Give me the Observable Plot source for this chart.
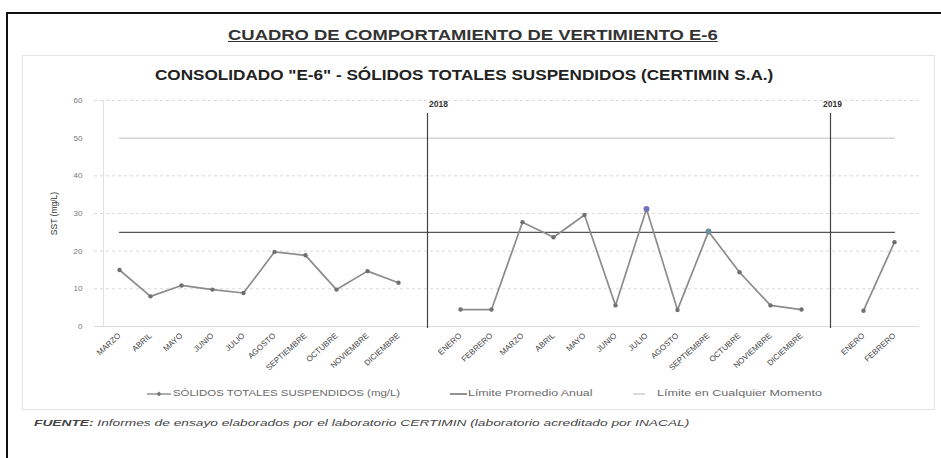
<!DOCTYPE html>
<html><head><meta charset="utf-8">
<script src="https://cdn.jsdelivr.net/npm/d3@7"></script>
<script src="https://cdn.jsdelivr.net/npm/@observablehq/plot@0.6"></script>
<style>
html,body{margin:0;padding:0;background:#fff;}
body{width:941px;height:458px;position:relative;overflow:hidden;font-family:"Liberation Sans",Arial,sans-serif;}
.abs{position:absolute;white-space:nowrap;line-height:1;transform-origin:0 50%;}
#outer{position:absolute;left:6px;top:12px;width:960px;height:470px;border-left:2.5px solid #111;border-top:2.5px solid #111;}
#inner{position:absolute;left:22px;top:55px;width:911px;height:353px;border:1px solid #e4e4e4;}
#chart{position:absolute;left:0;top:85px;}
.leg{color:#6a6a6a;font-size:9px;}
</style></head>
<body>
<div id="outer"></div>
<div id="inner"></div>
<div class="abs" data-w="490" style="left:228px;top:28px;font-size:14px;font-weight:bold;color:#333;text-decoration:underline;">CUADRO DE COMPORTAMIENTO DE VERTIMIENTO E-6</div>
<div class="abs" data-w="618" style="left:155px;top:67px;font-size:15px;font-weight:bold;color:#222;">CONSOLIDADO "E-6" - SÓLIDOS TOTALES SUSPENDIDOS (CERTIMIN S.A.)</div>
<div id="chart"></div>
<svg style="position:absolute;left:145px;top:389px" width="28" height="10"><line x1="2" y1="5" x2="26" y2="5" stroke="#8c8c8c" stroke-width="1.4"/><path d="M14 2.6 L16.4 5 L14 7.4 L11.6 5Z" fill="#777"/></svg>
<div class="abs leg" data-w="227" style="left:173px;top:389px;">SÓLIDOS TOTALES SUSPENDIDOS (mg/L)</div>
<svg style="position:absolute;left:448px;top:389px" width="20" height="10"><line x1="2" y1="5" x2="19" y2="5" stroke="#555" stroke-width="1.3"/></svg>
<div class="abs leg" data-w="125" style="left:468px;top:389px;">Límite Promedio Anual</div>
<svg style="position:absolute;left:631px;top:389px" width="16" height="10"><line x1="2" y1="5" x2="14" y2="5" stroke="#c4c4c4" stroke-width="1.3"/></svg>
<div class="abs leg" data-w="165" style="left:657px;top:389px;">Límite en Cualquier Momento</div>
<div class="abs" data-w="656" style="left:34px;top:419px;font-size:9px;font-style:italic;color:#444;"><b>FUENTE:</b> Informes de ensayo elaborados por el laboratorio CERTIMIN (laboratorio acreditado por INACAL)</div>
<script>
// ---- data ----
const months2017 = ["MARZO","ABRIL","MAYO","JUNIO","JULIO","AGOSTO","SEPTIEMBRE","OCTUBRE","NOVIEMBRE","DICIEMBRE"];
const sst2017 = [15.0, 8.0, 10.9, 9.8, 8.9, 19.8, 18.9, 9.8, 14.7, 11.6];
const months2018 = ["ENERO","FEBRERO","MARZO","ABRIL","MAYO","JUNIO","JULIO","AGOSTO","SEPTIEMBRE","OCTUBRE","NOVIEMBRE","DICIEMBRE"];
const sst2018 = [4.5, 4.5, 27.7, 23.7, 29.6, 5.6, 31.2, 4.4, 25.2, 14.4, 5.6, 4.5];
const months2019 = ["ENERO","FEBRERO"];
const sst2019 = [4.2, 22.4];
const yearLabels = ["2018", "2019"];
const limiteAnual = 25;
const limiteMomento = 50;
const yTicks = [0, 10, 20, 30, 40, 50, 60];
const highlights = [
  {year: "2018", month: "JULIO", color: "#7272b8"},
  {year: "2018", month: "SEPTIEMBRE", color: "#6b8f9e"}
];

// ---- build table ----
const groups = [["2017", months2017, sst2017], ["2018", months2018, sst2018], ["2019", months2019, sst2019]];
const rows = [];
const domain = [];
groups.forEach(([yr, ms, vs], gi) => {
  if (gi > 0) domain.push("gap-" + yr);
  ms.forEach((m, i) => { const k = yr + "-" + m; domain.push(k); rows.push({key: k, year: yr, month: m, value: vs[i]}); });
});
const realKeys = rows.map(d => d.key);
const monthOf = new Map(rows.map(d => [d.key, d.month]));
const hl = highlights.map(h => ({...h, key: h.year + "-" + h.month, value: rows.find(r => r.key === h.year + "-" + h.month).value}));
const yearGaps = yearLabels.map(y => ({key: "gap-" + y, label: y}));

const plot = Plot.plot({
  width: 941, height: 300,
  marginTop: 15, marginBottom: 59, marginLeft: 94, marginRight: 22,
  style: {fontFamily: "Liberation Sans, Arial, sans-serif", background: "transparent"},
  x: {type: "point", domain, padding: 0.5},
  y: {domain: [0, 60]},
  marks: [
    Plot.ruleY(yTicks.filter(t => t !== 0 && t !== limiteMomento), {stroke: "#d9d9d9", strokeDasharray: "3,3", strokeWidth: 1}),
    Plot.ruleY([0], {stroke: "#dadada", strokeWidth: 1}),
    Plot.ruleX([domain[0]], {stroke: "#e2e2e2", strokeWidth: 1, dx: -16}),
    Plot.lineY(rows, {x: "key", y: () => limiteMomento, stroke: "#cacaca", strokeWidth: 1.2}),
    Plot.lineY(rows, {x: "key", y: () => limiteAnual, stroke: "#555", strokeWidth: 1.4}),
    Plot.ruleX(yearGaps, {x: "key", stroke: "#444", strokeWidth: 1.2, insetTop: 13, insetBottom: -2, dx: -2}),
    Plot.text(yearGaps.slice(0, 1), {x: "key", text: "label", frameAnchor: "top", dx: 9, fontWeight: "bold", fontSize: 8.5, fill: "#333"}),
    Plot.text(yearGaps.slice(1), {x: "key", text: "label", frameAnchor: "top", dx: 0, fontWeight: "bold", fontSize: 8.5, fill: "#333"}),
    Plot.lineY(rows, {x: "key", y: "value", z: "year", stroke: "#8c8c8c", strokeWidth: 1.7}),
    Plot.dot(rows, {x: "key", y: "value", r: 2.2, fill: "#707070", stroke: "none"}),
    Plot.dot(hl, {x: "key", y: "value", r: 3, fill: "color", stroke: "none"}),
    Plot.axisY({ticks: yTicks, tickSize: 0, tickPadding: 12, fontSize: 8, color: "#777", label: "SST (mg/L)", labelAnchor: "center", labelArrow: "none", labelOffset: 44}),
    Plot.axisX({ticks: realKeys, tickFormat: k => monthOf.get(k) || "", tickSize: 0, tickPadding: 8, tickRotate: -42, fontSize: 8, color: "#444", label: null})
  ]
});
document.getElementById("chart").appendChild(plot);
plot.querySelectorAll('[aria-label="y-axis label"] text').forEach(t => { t.setAttribute("font-size", "8.5"); t.setAttribute("fill", "#333"); });

// fit text widths
document.querySelectorAll("[data-w]").forEach(el => {
  const w = +el.dataset.w;
  const a = el.scrollWidth;
  if (a > 0) el.style.transform = `scaleX(${w / a})`;
});
</script>
</body></html>
